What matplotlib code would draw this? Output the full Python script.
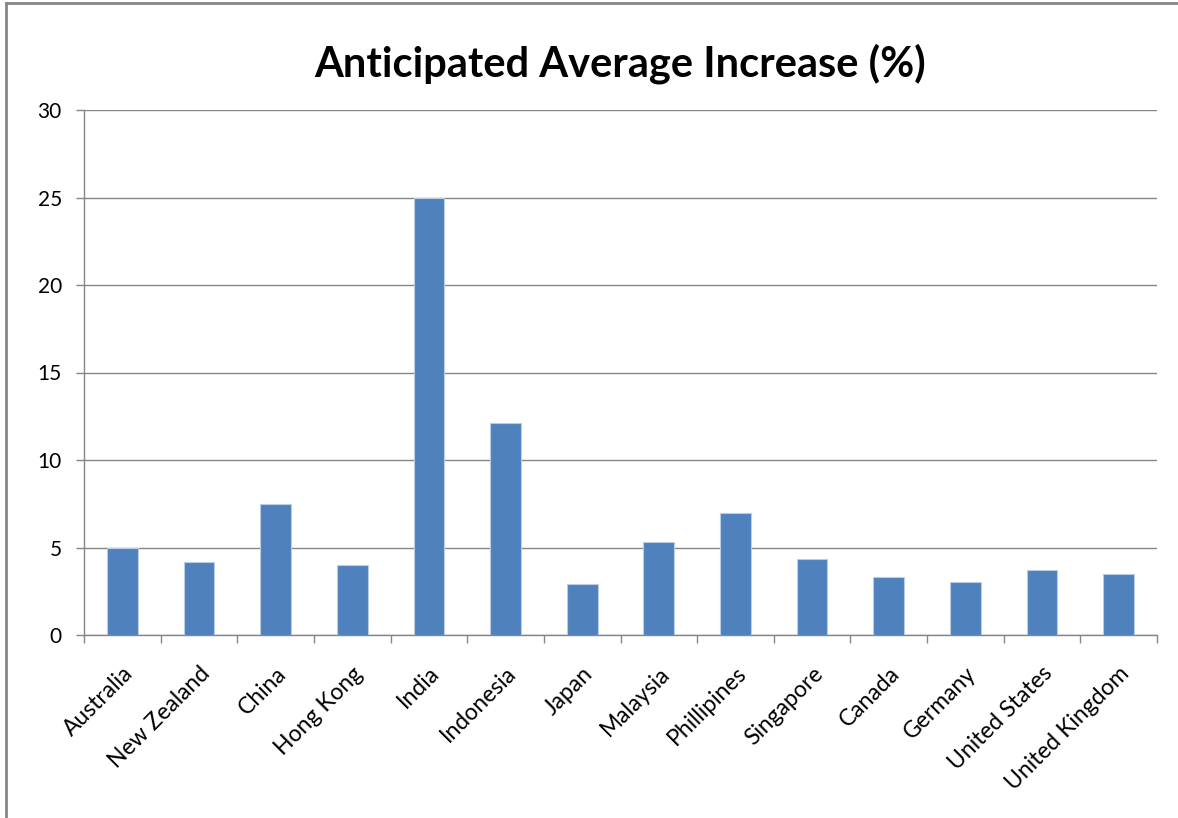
import matplotlib
matplotlib.use("Agg")
import matplotlib.pyplot as plt
import numpy as np

categories = ["Australia", "New Zealand", "China", "Hong Kong", "India", "Indonesia",
              "Japan", "Malaysia", "Phillipines", "Singapore", "Canada", "Germany",
              "United States", "United Kingdom"]
values = [5.0, 4.2, 7.5, 4.0, 25.0, 12.1, 2.9, 5.3, 7.0, 4.35, 3.33, 3.05, 3.7, 3.47]
yticks = [0, 5, 10, 15, 20, 25, 30]

plt.rcParams['font.family'] = ['Lato', 'DejaVu Sans']

fig = plt.figure(figsize=(11.78, 8.18), dpi=100)
ax = fig.add_axes([84/1178, 1 - 635/818, (1157-84)/1178, (635-110)/818])

x = np.arange(len(categories))
ax.bar(x, values, width=0.4, color="#4F81BD", edgecolor="#B9CDE5", linewidth=0.8, zorder=3)

ax.set_xlim(-0.5, len(categories) - 0.5)
ax.set_ylim(0, 30)
ax.set_yticks(yticks)
ax.set_yticklabels([str(v) for v in yticks], fontsize=15)
ax.yaxis.grid(True, color="#868686", linewidth=1.0, zorder=0)
ax.set_axisbelow(True)

ax.set_xticks(x)
ax.set_xticklabels(categories, rotation=45, ha="right", rotation_mode="anchor", fontsize=16.5)
ax.tick_params(axis="x", length=0, pad=20)
ax.set_xticks(np.arange(-0.5, len(categories), 1.0), minor=True)
ax.tick_params(axis="x", which="minor", length=6, color="#868686", width=1)
ax.tick_params(axis="y", length=6, color="#868686", width=1, pad=10)

for s in ["top", "right"]:
    ax.spines[s].set_visible(False)
for s in ["left", "bottom"]:
    ax.spines[s].set_color("#868686")
    ax.spines[s].set_linewidth(1.0)

fig.text(620/1178, 1 - 64/818, "Anticipated Average Increase (%)", ha="center", va="center",
         fontsize=30, fontweight="bold")

# outer chart border (left and top visible)
fig.add_artist(plt.Line2D([6/1178, 6/1178], [0, 1 - 3/818], transform=fig.transFigure,
                          color="#868686", linewidth=2))
fig.add_artist(plt.Line2D([6/1178, 1], [1 - 3/818, 1 - 3/818], transform=fig.transFigure,
                          color="#868686", linewidth=2))

fig.savefig("out.png", dpi=100)
